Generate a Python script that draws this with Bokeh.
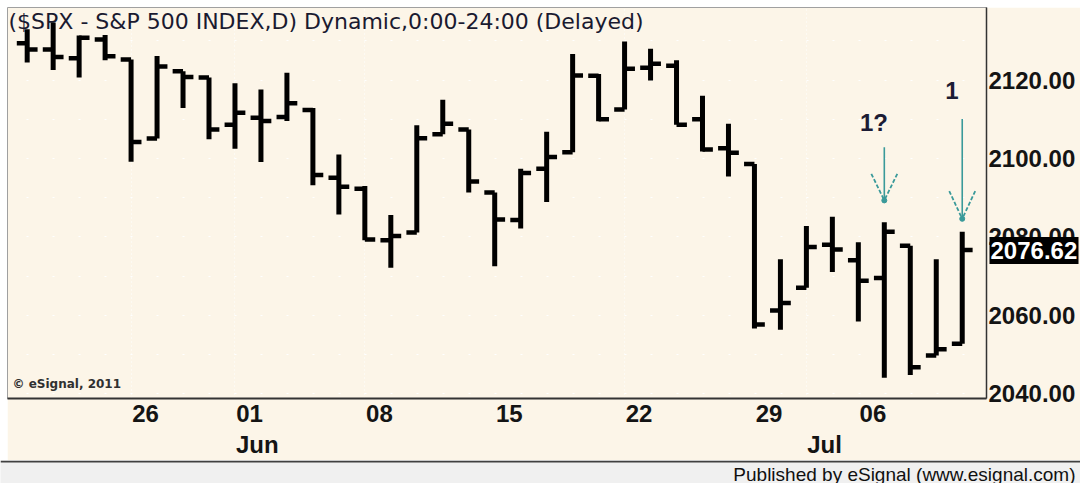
from bokeh.plotting import figure
from bokeh.models import (ColumnDataSource, FixedTicker, LinearAxis, Label, Range1d,
                          NumeralTickFormatter, CustomJSTickFormatter, Span, Spacer)
from bokeh.layouts import column, row
from bokeh.embed import file_html
from bokeh.resources import INLINE
from bokeh.core.properties import value

# ---------------- data ----------------
dates = ["2015-05-19", "2015-05-20", "2015-05-21", "2015-05-22",
         "2015-05-26", "2015-05-27", "2015-05-28", "2015-05-29",
         "2015-06-01", "2015-06-02", "2015-06-03", "2015-06-04", "2015-06-05",
         "2015-06-08", "2015-06-09", "2015-06-10", "2015-06-11", "2015-06-12",
         "2015-06-15", "2015-06-16", "2015-06-17", "2015-06-18", "2015-06-19",
         "2015-06-22", "2015-06-23", "2015-06-24", "2015-06-25", "2015-06-26",
         "2015-06-29", "2015-06-30", "2015-07-01", "2015-07-02",
         "2015-07-06", "2015-07-07", "2015-07-08", "2015-07-09", "2015-07-10"]
opens = [2129.4, 2127.8, 2125.6, 2130.4, 2125.3, 2105.1, 2122.3, 2120.7,
         2108.6, 2110.4, 2110.6, 2112.4, 2095.1, 2092.3, 2079.1, 2081.1,
         2106.2, 2107.4, 2091.3, 2084.3, 2097.4, 2101.6, 2121.1, 2112.5,
         2123.2, 2123.7, 2110.0, 2102.6, 2098.6, 2061.2, 2067.0, 2078.0,
         2074.0, 2069.5, 2077.7, 2049.7, 2052.7]
highs = [2133.0, 2134.7, 2131.4, 2131.5, 2125.3, 2126.2, 2122.3, 2120.7,
         2119.2, 2117.6, 2121.9, 2112.9, 2101.0, 2093.0, 2085.6, 2108.5,
         2115.0, 2107.4, 2091.3, 2097.4, 2106.8, 2126.7, 2121.6, 2129.9,
         2128.0, 2125.1, 2116.0, 2108.9, 2098.6, 2074.3, 2082.8, 2085.1,
         2078.6, 2083.7, 2077.7, 2074.3, 2081.3]
lows = [2124.5, 2122.6, 2120.7, 2125.1, 2099.2, 2105.1, 2112.9, 2104.9,
        2102.5, 2099.1, 2109.6, 2093.2, 2085.7, 2079.1, 2072.1, 2081.1,
        2106.2, 2091.3, 2072.5, 2082.1, 2088.9, 2101.6, 2109.5, 2112.5,
        2119.9, 2108.6, 2101.8, 2095.4, 2056.6, 2056.3, 2067.0, 2071.0,
        2058.4, 2044.0, 2044.7, 2049.7, 2052.7]
closes = [2127.8, 2125.9, 2130.8, 2126.1, 2104.2, 2123.5, 2120.8, 2107.4,
          2111.7, 2109.6, 2114.1, 2095.8, 2092.8, 2079.3, 2080.2, 2105.2,
          2108.9, 2094.1, 2084.4, 2096.3, 2100.4, 2121.2, 2110.0, 2122.9,
          2124.2, 2108.6, 2102.3, 2101.5, 2057.6, 2063.1, 2077.4, 2076.8,
          2068.8, 2081.3, 2046.7, 2051.3, 2076.62]

day_tick_dates = ["2015-05-26", "2015-06-01", "2015-06-08", "2015-06-15",
                  "2015-06-22", "2015-06-29", "2015-07-06"]
day_tick_labels = ["26", "01", "08", "15", "22", "29", "06"]
month_tick_dates = ["2015-06-01", "2015-07-01"]
month_tick_labels = ["Jun", "Jul"]
price_ticks = [2040, 2060, 2080, 2100, 2120]
grid_prices = [2040, 2050, 2060, 2070, 2080, 2090, 2100, 2110, 2120, 2130]
grid_dates = ["2015-05-26", "2015-06-01", "2015-06-08", "2015-06-22", "2015-07-01"]

title_text = "($SPX - S&P 500 INDEX,D) Dynamic,0:00-24:00 (Delayed)"
copyright_text = "\u00a9 eSignal, 2011"
publisher_text = "Published by eSignal (www.esignal.com)"

arrow_dates = ["2015-07-07", "2015-07-10"]
arrow_top = [2102.9, 2110.1]
arrow_head = [2096.1, 2091.7]
arrow_tip = [2089.3, 2084.6]
arrow_text = ["1?", "1"]
arrow_text_y = [2109.2, 2117.4]

# ---------------- style / layout ----------------
BG = "#FCF5E8"
STRIP_BG = "#F0F0F0"
TEAL = "#3A9A9A"
INK = "#141414"
PAD_LEFT = 7
PAD_TOP = 7
W_TOTAL = 1080
W = W_TOTAL - PAD_LEFT
H_MAIN = 453
H_STRIP = 23
FRAME_W = 980
FRAME_H = 391
RIGHT_BORDER = W - FRAME_W
BOTTOM_BORDER = H_MAIN - FRAME_H
BAR_PX = 26.0
X_START = -0.758
X_END = X_START + FRAME_W / BAR_PX
Y_START, Y_END = 2038.73, 2138.55
DAY_SHIFT = 0.56
MONTH_SHIFT = [0.86, 0.70]
HALF_TICK = 0.4
LABEL_FONT = "Liberation Sans"
PRICE_AXIS_W = 89      # approx. width taken by the price axis (standoff + label)
BOX_H = 27

JS_FMT = "const i = t.findIndex(v => Math.abs(v - tick) < 1e-6); return i >= 0 ? l[i] : '';"

xs = list(range(len(dates)))
src = ColumnDataSource(dict(
    x=xs, o=opens, h=highs, l=lows, c=closes,
    xl=[i - HALF_TICK for i in xs], xr=[i + HALF_TICK for i in xs]))

p = figure(width=W, height=H_MAIN,
           x_range=Range1d(X_START, X_END), y_range=Range1d(Y_START, Y_END),
           output_backend="svg", toolbar_location=None, y_axis_location="right",
           min_border_left=0, min_border_top=0,
           min_border_right=RIGHT_BORDER, min_border_bottom=BOTTOM_BORDER,
           background_fill_color=BG, border_fill_color=BG,
           outline_line_color="#A0A0A0", outline_line_width=1)

# grids
p.ygrid.ticker = FixedTicker(ticks=grid_prices)
p.ygrid.grid_line_color = "white"
p.ygrid.grid_line_dash = "2 24"
p.ygrid.grid_line_dash_offset = 7
p.xgrid.ticker = FixedTicker(ticks=[dates.index(d) for d in grid_dates])
p.xgrid.grid_line_color = "white"
p.xgrid.grid_line_dash = "1 3"

# right price axis
ya = p.yaxis[0]
ya.ticker = FixedTicker(ticks=price_ticks)
ya.formatter = NumeralTickFormatter(format="0.00")
ya.major_label_text_font = LABEL_FONT
ya.major_label_text_font_style = "bold"
ya.major_label_text_font_size = "24px"
ya.major_label_text_color = INK
ya.major_label_standoff = 2
ya.major_tick_out = 0
ya.major_tick_in = 0
ya.minor_tick_out = 0
ya.minor_tick_in = 0
ya.major_tick_line_color = None
ya.minor_tick_line_color = None
ya.axis_line_color = "#333333"
ya.axis_line_width = 1.5

# last-price marker: a second right axis whose thick inward tick forms the black box
box_axis = LinearAxis(ticker=FixedTicker(ticks=[closes[-1]]),
                      formatter=NumeralTickFormatter(format="0.00"),
                      axis_line_color=None, minor_tick_line_color=None,
                      minor_tick_in=0, minor_tick_out=0,
                      major_tick_in=PRICE_AXIS_W, major_tick_out=0,
                      major_tick_line_color="black", major_tick_line_width=BOX_H,
                      major_label_standoff=-(PRICE_AXIS_W - 1),
                      major_label_text_font=LABEL_FONT,
                      major_label_text_font_style="bold",
                      major_label_text_font_size="24px",
                      major_label_text_color="white")
p.add_layout(box_axis, "right")

# bottom day axis
day_ticks = [dates.index(d) + DAY_SHIFT for d in day_tick_dates]
xa = p.xaxis[0]
xa.ticker = FixedTicker(ticks=day_ticks)
xa.formatter = CustomJSTickFormatter(args=dict(t=day_ticks, l=day_tick_labels), code=JS_FMT)
xa.major_label_text_font = LABEL_FONT
xa.major_label_text_font_style = "bold"
xa.major_label_text_font_size = "24px"
xa.major_label_text_color = INK
xa.major_label_standoff = 6
xa.major_tick_out = 0
xa.major_tick_in = 0
xa.minor_tick_out = 0
xa.minor_tick_in = 0
xa.major_tick_line_color = None
xa.minor_tick_line_color = None
xa.axis_line_color = "#333333"
xa.axis_line_width = 2

# bottom month axis
month_ticks = [dates.index(d) + sh for d, sh in zip(month_tick_dates, MONTH_SHIFT)]
ma = LinearAxis(ticker=FixedTicker(ticks=month_ticks),
                formatter=CustomJSTickFormatter(args=dict(t=month_ticks, l=month_tick_labels),
                                                code=JS_FMT),
                axis_line_color=None, major_tick_line_color=None, minor_tick_line_color=None,
                major_tick_out=0, major_tick_in=0, minor_tick_out=0, minor_tick_in=0,
                major_label_standoff=6,
                major_label_text_font=LABEL_FONT,
                major_label_text_font_style="bold",
                major_label_text_font_size="24px",
                major_label_text_color=INK)
p.add_layout(ma, "below")

# title (under the bars)
p.add_layout(Label(x=X_START, y=Y_END, x_offset=1, y_offset=-1, text=title_text,
                   text_baseline="top", text_align="left",
                   text_font="DejaVu Sans", text_font_size="22px",
                   text_color="#1A1A30", level="underlay"))

# OHLC bars
p.segment(x0="x", y0="l", x1="x", y1="h", source=src, line_color="black", line_width=5)
p.segment(x0="xl", y0="o", x1="x", y1="o", source=src, line_color="black", line_width=4.5)
p.segment(x0="x", y0="c", x1="xr", y1="c", source=src, line_color="black", line_width=4.5)

# copyright
p.add_layout(Label(x=X_START, y=Y_START, x_offset=5, y_offset=15, text=copyright_text,
                   text_baseline="middle", text_font="DejaVu Sans",
                   text_font_style="bold", text_font_size="12px", text_color="#303030"))

# arrows with labels
ax_ = [dates.index(d) for d in arrow_dates]
asrc = ColumnDataSource(dict(
    x=ax_, top=arrow_top, head=arrow_head, tip=arrow_tip,
    xl=[v - 0.5 for v in ax_], xr=[v + 0.5 for v in ax_],
    tx=[v - 0.4 for v in ax_], ty=arrow_text_y, t=arrow_text))
p.segment(x0="x", y0="top", x1="x", y1="tip", source=asrc, line_color=TEAL, line_width=1.6)
p.segment(x0="xl", y0="head", x1="x", y1="tip", source=asrc, line_color=TEAL,
          line_width=1.8, line_dash="4 2")
p.segment(x0="xr", y0="head", x1="x", y1="tip", source=asrc, line_color=TEAL,
          line_width=1.8, line_dash="4 2")
p.scatter(x="x", y="tip", source=asrc, size=5, color=TEAL)
p.text(x="tx", y="ty", text="t", source=asrc, text_align="center", text_baseline="middle",
       text_font=value(LABEL_FONT), text_font_style="bold", text_font_size="24px",
       text_color="#1C1C34")

# bottom publisher strip
s = figure(width=W_TOTAL, height=H_STRIP, x_range=Range1d(0, W_TOTAL), y_range=Range1d(0, H_STRIP),
           output_backend="svg", toolbar_location=None,
           x_axis_location=None, y_axis_location=None, min_border=0,
           background_fill_color=STRIP_BG, border_fill_color=STRIP_BG, outline_line_color=None)
s.grid.visible = False
s.add_layout(Span(location=H_STRIP - 1, dimension="width", line_color="#404040", line_width=2))
s.add_layout(Label(x=W_TOTAL - 5, y=H_STRIP / 2 - 2, text=publisher_text, text_align="right",
                   text_baseline="middle", text_font=LABEL_FONT,
                   text_font_size="19px", text_color="#101010"))

layout = column(Spacer(width=W_TOTAL, height=PAD_TOP),
                row(Spacer(width=PAD_LEFT, height=H_MAIN), p, spacing=0),
                s, spacing=0)
open("out.html", "w").write(file_html(layout, INLINE))
